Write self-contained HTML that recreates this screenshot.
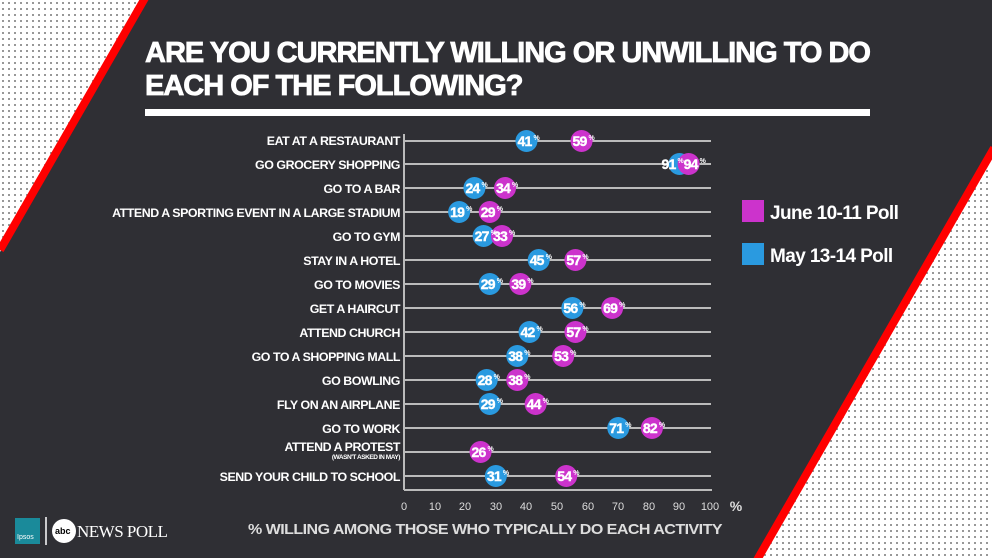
<!DOCTYPE html><html><head><style>
body{margin:0;width:992px;height:558px;overflow:hidden;background:#2f2f34;font-family:"Liberation Sans",Arial,sans-serif}
</style></head><body>
<svg width="992" height="558" xmlns="http://www.w3.org/2000/svg" style="position:absolute;left:0;top:0">
<defs><pattern id="d" width="6" height="6" patternUnits="userSpaceOnUse"><rect width="6" height="6" fill="#fff"/><circle cx="3" cy="3" r="1" fill="#777"/></pattern></defs>
<rect width="992" height="558" fill="#2f2f34"/>
<polygon points="0,0 145,0 0,252" fill="url(#d)"/>
<line x1="145" y1="-2" x2="0" y2="250" stroke="#f00" stroke-width="8"/>
<polygon points="992,150 992,558 758,558" fill="url(#d)"/>
<line x1="994" y1="148" x2="757" y2="560" stroke="#f00" stroke-width="8"/>
<g font-weight="bold" fill="#fff" font-size="29" letter-spacing="-1" stroke="#fff" stroke-width="0.8">
<text x="145" y="62" textLength="725" lengthAdjust="spacingAndGlyphs">ARE YOU CURRENTLY WILLING OR UNWILLING TO DO</text>
<text x="145" y="95">EACH OF THE FOLLOWING?</text></g>
<rect x="145" y="109" width="725" height="7" fill="#fff"/>
<g stroke="#bbb" stroke-width="2">
<line x1="404" y1="134" x2="404" y2="490"/><line x1="404" y1="490" x2="712" y2="490"/>
<line x1="404" y1="141" x2="711" y2="141"/><line x1="404" y1="164" x2="711" y2="164"/><line x1="404" y1="188" x2="711" y2="188"/><line x1="404" y1="212" x2="711" y2="212"/><line x1="404" y1="236" x2="711" y2="236"/><line x1="404" y1="260" x2="711" y2="260"/><line x1="404" y1="284" x2="711" y2="284"/><line x1="404" y1="308" x2="711" y2="308"/><line x1="404" y1="332" x2="711" y2="332"/><line x1="404" y1="356" x2="711" y2="356"/><line x1="404" y1="380" x2="711" y2="380"/><line x1="404" y1="404" x2="711" y2="404"/><line x1="404" y1="428" x2="711" y2="428"/><line x1="404" y1="452" x2="711" y2="452"/><line x1="404" y1="476" x2="711" y2="476"/>
</g>
<g font-weight="bold" fill="#fff" font-size="12.4" text-anchor="end" letter-spacing="-0.45">
<text x="400" y="145">EAT AT A RESTAURANT</text>
<text x="400" y="169">GO GROCERY SHOPPING</text>
<text x="400" y="193">GO TO A BAR</text>
<text x="400" y="217">ATTEND A SPORTING EVENT IN A LARGE STADIUM</text>
<text x="400" y="241">GO TO GYM</text>
<text x="400" y="265">STAY IN A HOTEL</text>
<text x="400" y="289">GO TO MOVIES</text>
<text x="400" y="313">GET A HAIRCUT</text>
<text x="400" y="337">ATTEND CHURCH</text>
<text x="400" y="361">GO TO A SHOPPING MALL</text>
<text x="400" y="385">GO BOWLING</text>
<text x="400" y="409">FLY ON AN AIRPLANE</text>
<text x="400" y="433">GO TO WORK</text>
<text x="400" y="451">ATTEND A PROTEST</text>
<text x="400" y="459" font-size="6.5">(WASN'T ASKED IN MAY)</text>
<text x="400" y="481">SEND YOUR CHILD TO SCHOOL</text>
</g>
<g id="c"></g>
<g font-size="11" fill="#ddd" text-anchor="middle">
<text x="404" y="510">0</text><text x="435" y="510">10</text><text x="465" y="510">20</text><text x="496" y="510">30</text><text x="526" y="510">40</text><text x="557" y="510">50</text><text x="588" y="510">60</text><text x="618" y="510">70</text><text x="649" y="510">80</text><text x="679" y="510">90</text><text x="710" y="510">100</text>
<text x="736" y="511" font-weight="bold" font-size="14">%</text></g>
<rect x="742" y="200" width="22" height="22" fill="#cc33cc"/>
<rect x="742" y="243" width="22" height="22" fill="#2a9ae0"/>
<g font-weight="bold" fill="#fff" font-size="19" letter-spacing="-0.6">
<text x="770" y="219">June 10-11 Poll</text><text x="770" y="262">May 13-14 Poll</text></g>
<text x="248" y="534" font-weight="bold" fill="#ddd" font-size="15" letter-spacing="-0.5" textLength="474" lengthAdjust="spacingAndGlyphs">% WILLING AMONG THOSE WHO TYPICALLY DO EACH ACTIVITY</text>
<rect x="15" y="518" width="25" height="26" fill="#1a8a9a"/><text x="17" y="539" font-size="7" fill="#fff">Ipsos</text>
<line x1="46" y1="517" x2="46" y2="545" stroke="#fff" stroke-width="1.5"/>
<circle cx="64" cy="531" r="12" fill="#fff"/><text x="55" y="534" font-size="9" font-weight="bold" fill="#000">abc</text>
<text x="77" y="537" font-family="Liberation Serif" font-size="17" fill="#fff" letter-spacing="-0.5">NEWS POLL</text>
</svg>
<script>
const d=[[141,41,59],[164,91,94],[188,24,34],[212,19,29],[236,27,33],[260,45,57],[284,29,39],[308,56,69],[332,42,57],[356,38,53],[380,28,38],[404,29,44],[428,71,82],[452,null,26],[476,31,54]];
let s='';const X=v=>401+v*3.06;
for(const [y,b,p] of d){
 if(b!=null)s+=`<circle cx="${X(b)}" cy="${y}" r="11" fill="#2a9ae0"/>`;
 s+=`<circle cx="${X(p)}" cy="${y}" r="11" fill="#cc33cc"/>`;
 for(const v of [b,p]) if(v!=null){
  let o=0; if(y==164) o=(v==91?-9:4);
  s+=`<text x="${X(v)-9+o}" y="${y+5}" font-weight="bold" font-size="14" fill="#fff" stroke="#fff" stroke-width="0.4" letter-spacing="-0.8">${v}</text><text x="${X(v)+7+o}" y="${y-1}" font-weight="bold" font-size="7" fill="#fff">%</text>`;}
}
document.getElementById('c').innerHTML=s;
</script>
</body></html>
